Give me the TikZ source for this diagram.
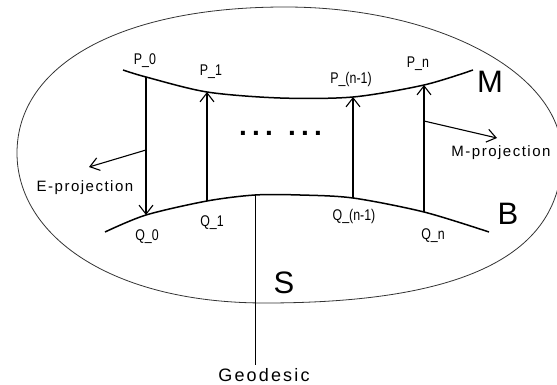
\documentclass[tikz,border=0pt]{standalone}
\usepackage{fontspec}
\setmainfont{Liberation Sans}
\newfontfamily\condfont[FakeStretch=0.8]{Liberation Sans}
\newfontfamily\spacedfont[LetterSpace=10]{Liberation Sans}
\newfontfamily\geofont[LetterSpace=12]{Liberation Sans}
\newfontfamily\dotfont[LetterSpace=18.6]{Liberation Sans Bold}
\usetikzlibrary{arrows.meta}
\begin{document}
\begin{tikzpicture}[x=1pt,y=-1pt,
  surf/.style={line width=1.5pt},
  rim/.style={line width=0.8pt, black!80},
  arr/.style={line width=1.1pt, -{Straight Barb[length=9pt,width=14pt]}},
  parr/.style={line width=1.1pt, -{Straight Barb[length=9pt,width=13pt]}},
  lab/.style={font=\condfont\fontsize{15.5}{17}\selectfont, inner sep=0pt},
  word/.style={font=\spacedfont\fontsize{15}{18}\selectfont, inner sep=0pt},
  big/.style={font=\fontsize{31}{34}\selectfont, inner sep=0pt},
  dots/.style={font=\dotfont\fontsize{28}{30}\selectfont, inner sep=0pt, anchor=base west}]
\useasboundingbox (0,0) rectangle (557,385);
% outer region S
\coordinate (eL) at (17,153);
\coordinate (eT) at (285,7);
\coordinate (eR) at (562,155);
\coordinate (eB) at (265,303);
\draw[rim] (eL) .. controls (17,65) and (120,7) .. (eT)
  .. controls (438,7) and (562,73) .. (eR)
  .. controls (562,243) and (487,303) .. (eB)
  .. controls (110,303) and (17,235) .. (eL) -- cycle;
% points
\coordinate (P0) at (146,77);
\coordinate (P1) at (207,92);
\coordinate (Pn1) at (353,97);
\coordinate (Pn) at (424,85);
\coordinate (Q0) at (146,215);
\coordinate (Q1) at (207,201);
\coordinate (Qn1) at (353,198);
\coordinate (Qn) at (424,212);
\coordinate (Ms) at (123,70);
\coordinate (Me) at (473,70);
\coordinate (Bs) at (105,232);
\coordinate (Be) at (489,232);
\coordinate (G) at (255,195);
\coordinate (Gend) at (255,365);
\coordinate (E0) at (146,150);
\coordinate (E1) at (89,167);
\coordinate (M0) at (424,121);
\coordinate (M1) at (497,138);
% curves M and B
\draw[surf] plot[smooth] coordinates {(Ms) (P0) (P1) (280,98) (Pn1) (Pn) (Me)};
\draw[surf] plot[smooth] coordinates {(Bs) (Q0) (Q1) (G) (300,195) (Qn1) (Qn) (Be)};
% projections
\draw[arr] (P0) -- (Q0);
\draw[arr] (Q1) -- (P1);
\draw[arr] (Qn1) -- (Pn1);
\draw[arr] (Qn) -- (Pn);
\draw[parr] (E0) -- (E1);
\draw[parr] (M0) -- (M1);
\draw[line width=0.8pt] (G) -- (Gend);
% labels
\node[lab] (lP0) at (145,61) {P\_0};
\node[lab] (lP1) at (211,72) {P\_1};
\node[lab] (lPn1) at (351,79) {P\_(n-1)};
\node[lab] (lPn) at (418,64) {P\_n};
\node[lab] (lQ0) at (147,237) {Q\_0};
\node[lab] (lQ1) at (212,223) {Q\_1};
\node[lab] (lQn1) at (354,216) {Q\_(n-1)};
\node[lab] (lQn) at (433,236) {Q\_n};
\node[big] (lM) at (490,82) {M};
\node[big] (lB) at (508,214) {B};
\node[big] (lS) at (284,283) {S};
\node[word] (lE) at (85,188) {E-projection};
\node[word] (lMp) at (501,153) {M-projection};
\node[font=\geofont\fontsize{18}{20}\selectfont, inner sep=0pt] (geo) at (264,375) {Geodesic};
\node[dots] (d1) at (239,136) {...};
\node[dots] (d2) at (288,136) {...};
\end{tikzpicture}
\end{document}
